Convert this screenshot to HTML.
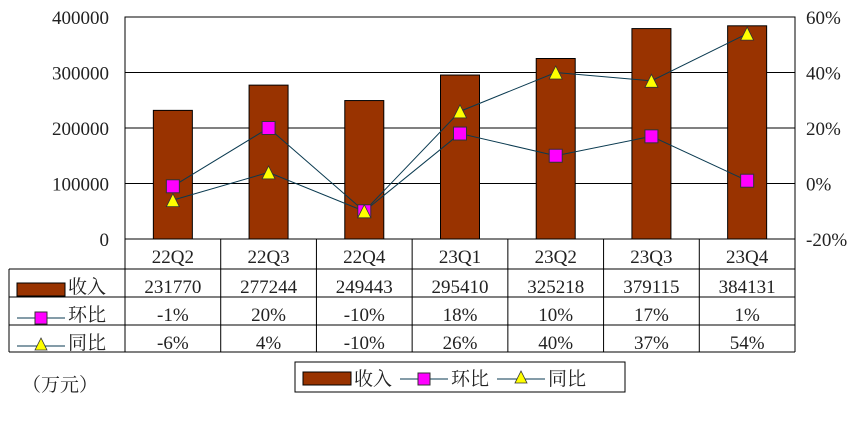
<!DOCTYPE html>
<html><head><meta charset="utf-8"><style>
body{margin:0;background:#fff;}
svg text{font-family:"Liberation Serif","Noto Serif CJK SC",serif;fill:#222;}
</style></head><body>
<svg id="c" width="858" height="417" viewBox="0 0 858 417"></svg>
<script>
const categories=["22Q2","22Q3","22Q4","23Q1","23Q2","23Q3","23Q4"];
const revenue=[231770,277244,249443,295410,325218,379115,384131];
const qoq=[-1,20,-10,18,10,17,1];
const yoy=[-6,4,-10,26,40,37,54];
const leftTicks=[0,100000,200000,300000,400000];
const rightTicks=[-20,0,20,40,60];

const NS="http://www.w3.org/2000/svg";
const svg=document.getElementById('c');
const X0=125,X1=795,YT=17,YB=239;
const cw=(X1-X0)/categories.length;
const yL=v=>YB-(v/400000)*(YB-YT);
const yR=v=>YB-((v+20)/80)*(YB-YT);
const xC=i=>X0+cw*(i+0.5);
function el(tag,attrs,parent){const e=document.createElementNS(NS,tag);for(const k in attrs)e.setAttribute(k,attrs[k]);(parent||svg).appendChild(e);return e;}
function txt(s,x,y,anchor,size,name){const t=el('text',{x:x,y:y,'text-anchor':anchor,'font-size':size});t.textContent=s;


return t;}

// gridlines
leftTicks.forEach((v,i)=>{const l=el('line',{x1:X0,x2:X1,y1:yL(v),y2:yL(v),stroke:'#000','stroke-width':1});


txt(String(v),109,yL(v)+7,'end',19,'left-tick-label');});
rightTicks.forEach(v=>{txt(v+'%',806,yR(v)+7,'start',19,'right-tick-label');});
const pa=el('rect',{x:X0,y:YT,width:X1-X0,height:YB-YT,fill:'none',stroke:'#000'});



// bars
revenue.forEach((v,i)=>{const b=el('rect',{x:xC(i)-19.5,y:yL(v),width:39,height:YB-yL(v),fill:'#993300',stroke:'#000','stroke-width':1});

});

// lines
function line(vals,name){const p=el('polyline',{points:vals.map((v,i)=>xC(i)+','+yR(v)).join(' '),fill:'none',stroke:'#0a3a50','stroke-width':1});

}
line(qoq,'qoq-line');line(yoy,'yoy-line');
function sq(x,y,s){return el('rect',{x:x-s/2,y:y-s/2,width:s,height:s,fill:'#ff00ff',stroke:'#333','stroke-width':1});}
function tri(x,y,s){return el('polygon',{points:`${x},${y-s/2} ${x-s/2},${y+s/2} ${x+s/2},${y+s/2}`,fill:'#ffff00',stroke:'#333','stroke-width':0.8});}
qoq.forEach((v,i)=>{const m=sq(xC(i),yR(v),13);

});
yoy.forEach((v,i)=>{const m=tri(xC(i),yR(v),13);

});

// table
const rows=[269,297,325,352];
const tg=el('g',{stroke:'#000','stroke-width':1});


el('line',{x1:X0,x2:X1,y1:YB,y2:YB},tg);
rows.forEach(y=>el('line',{x1:9,x2:X1,y1:y,y2:y},tg));
el('line',{x1:9,x2:9,y1:269,y2:352},tg);
for(let i=0;i<=categories.length;i++)el('line',{x1:X0+cw*i,x2:X0+cw*i,y1:YB,y2:352},tg);
categories.forEach((c,i)=>{txt(c,xC(i),263,'middle',19,'category-label');
txt(String(revenue[i]),xC(i),293,'middle',19,'revenue-value');
txt(qoq[i]+'%',xC(i),321,'middle',19,'qoq-value');
txt(yoy[i]+'%',xC(i),349,'middle',19,'yoy-value');});
// row legends
el('rect',{x:17,y:283,width:48,height:13,fill:'#993300',stroke:'#000'});
txt('收入',68,293,'start',19,'row-label-revenue');
el('line',{x1:17,x2:65,y1:318,y2:318,stroke:'#0a3a50'});sq(41,318,12);
txt('环比',68,321,'start',19,'row-label-qoq');
el('line',{x1:17,x2:65,y1:346,y2:346,stroke:'#0a3a50'});tri(41,344,12);
txt('同比',68,349,'start',19,'row-label-yoy');

txt('（万元）',22,391,'start',19,'unit-label');

// legend
const lg=el('rect',{x:295,y:362,width:330,height:30,fill:'#fff',stroke:'#000'});


el('rect',{x:303,y:372,width:48,height:13,fill:'#993300',stroke:'#000'});
txt('收入',354,385,'start',19,'legend-entry-revenue');
el('line',{x1:400,x2:448,y1:379,y2:379,stroke:'#0a3a50'});sq(424,379,12);
txt('环比',451,385,'start',19,'legend-entry-qoq');
el('line',{x1:497,x2:545,y1:379,y2:379,stroke:'#0a3a50'});tri(521,377,12);
txt('同比',548,385,'start',19,'legend-entry-yoy');
</script>
</body></html>
